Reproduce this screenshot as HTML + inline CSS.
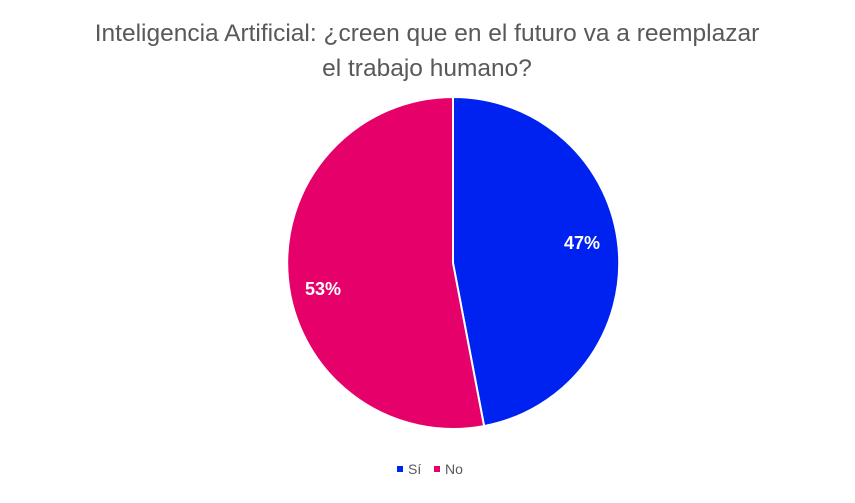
<!DOCTYPE html>
<html><head><meta charset="utf-8"><style>
body{margin:0;width:855px;height:498px;background:#fff;overflow:hidden}
</style></head><body>
<svg width="855" height="498" xmlns="http://www.w3.org/2000/svg" font-family="Liberation Sans, sans-serif">
<text x="427" y="41" text-anchor="middle" font-size="24.5" fill="#595959">Inteligencia Artificial: ¿creen que en el futuro va a reemplazar</text>
<text x="427" y="76" text-anchor="middle" font-size="24.5" fill="#595959">el trabajo humano?</text>
<path d="M453,263 L453,97 A166,166 0 0 1 484.1,426.1 Z" fill="#0022F0" stroke="#fff" stroke-width="2"/>
<path d="M453,263 L484.1,426.1 A166,166 0 1 1 453,97 Z" fill="#E6006A" stroke="#fff" stroke-width="2"/>
<text x="582" y="249" text-anchor="middle" font-size="18" font-weight="bold" fill="#fff">47%</text>
<text x="323" y="295" text-anchor="middle" font-size="18" font-weight="bold" fill="#fff">53%</text>
<rect x="397" y="466" width="6" height="6" fill="#0022F0"/>
<text x="408" y="474" font-size="14" fill="#595959">Sí</text>
<rect x="434" y="466" width="6" height="6" fill="#E6006A"/>
<text x="445" y="474" font-size="14" fill="#595959">No</text>
</svg>
</body></html>
